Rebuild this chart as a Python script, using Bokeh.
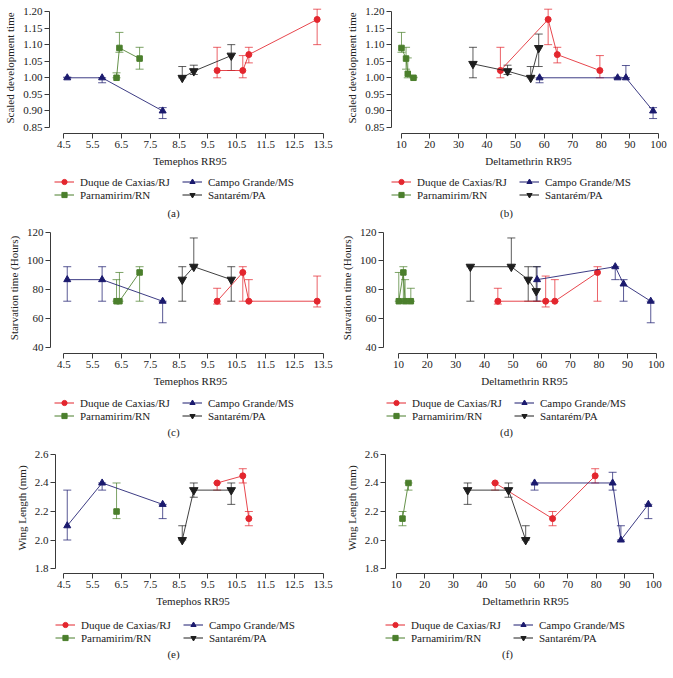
from bokeh.plotting import figure
from bokeh.layouts import column, row
from bokeh.models import (Range1d, FixedTicker, NumeralTickFormatter, Whisker, TeeHead,
                          ColumnDataSource, Legend, LegendItem, Label)
from bokeh.embed import file_html
from bokeh.resources import INLINE

FONT = "Liberation Serif"
NAN = float("nan")

SERIES = ["Duque de Caxias/RJ", "Parnamirim/RN", "Campo Grande/MS", "Santarém/PA"]
COLORS = ["#e3262e", "#4b7f2c", "#1b1a6e", "#1e1e1e"]
MARKERS = ["circle", "square", "triangle", "inverted_triangle"]
SIZES = [6, 5.5, 7, 8.5]

TEM_TICKS = [4.5, 5.5, 6.5, 7.5, 8.5, 9.5, 10.5, 11.5, 12.5, 13.5]
DEL_TICKS = [10, 20, 30, 40, 50, 60, 70, 80, 90, 100]
DEV_TICKS = [0.85, 0.90, 0.95, 1.00, 1.05, 1.10, 1.15, 1.20]
STARV_TICKS = [40, 60, 80, 100, 120]
WING_TICKS = [1.8, 2.0, 2.2, 2.4, 2.6]

# series order in every list: Duque de Caxias, Parnamirim, Campo Grande, Santarem
A_X = [[9.82, 10.71, 10.92, 13.29], [6.33, 6.43, 7.13], [4.62, 5.83, 7.93], [8.61, 9.01, 10.31]]
A_Y = [[1.022, 1.022, 1.070, 1.176], [1.000, 1.090, 1.058], [1.000, 1.000, 0.900], [1.000, 1.020, 1.067]]
A_LO = [[1.000, 1.000, 1.045, 1.100], [1.000, 1.077, 1.026], [1.000, 0.985, 0.877], [1.000, 1.010, 1.022]]
A_HI = [[1.092, 1.067, 1.092, 1.207], [1.015, 1.137, 1.092], [1.002, 1.000, 0.910], [1.034, 1.038, 1.100]]

B_X = [[44.7, 61.4, 64.6, 79.5], [10.1, 11.7, 12.3, 14.3], [58.4, 85.7, 88.6, 98.1], [35.1, 47.2, 55.3, 58.1]]
B_Y = [[1.022, 1.176, 1.070, 1.022], [1.090, 1.058, 1.012, 1.000], [1.000, 1.000, 1.000, 0.900], [1.042, 1.020, 1.000, 1.090]]
B_LO = [[1.000, 1.100, 1.045, 1.000], [1.077, 1.026, 1.000, 1.000], [0.985, 0.998, 1.000, 0.877], [1.000, 1.010, 1.000, 1.034]]
B_HI = [[1.092, 1.207, 1.092, 1.067], [1.137, 1.092, 1.060, 1.002], [1.000, 1.002, 1.037, 0.910], [1.092, 1.038, 1.034, 1.132]]

C_X = [[9.82, 10.71, 10.92, 13.29], [6.33, 6.43, 7.13], [4.62, 5.83, 7.93], [8.61, 9.01, 10.31]]
C_Y = [[72, 92, 72, 72], [72, 72, 92], [87, 87, 72], [87, 96, 87]]
C_LO = [[70, 72, 72, 68], [72, 72, 72], [72, 72, 57], [72, 96, 72]]
C_HI = [[81, 96, 87, 89.5], [87, 92, 96], [96, 96, 72], [96, 116, 96]]

D_X = [[44.7, 61.4, 64.6, 79.5], [10.1, 11.7, 12.3, 14.3], [58.4, 85.7, 88.6, 98.1], [35.1, 49.4, 55.3, 58.1]]
D_Y = [[72, 72, 72, 92], [72, 92, 72, 72], [87, 96, 84, 72], [96, 96, 87, 79]]
D_LO = [[70, 68, 72, 72], [72, 72, 72, 72], [72, 87, 72, 57], [72, 96, 72, 72]]
D_HI = [[81, 89.5, 87, 96], [92, 96, 87, 81], [96, 96, 87, 72], [96, 116, 96, 96]]

E_X = [[9.82, 10.71, 10.92], [6.33], [4.62, 5.83, 7.93], [8.61, 9.01, 10.31]]
E_Y = [[2.40, 2.45, 2.15], [2.20], [2.10, 2.40, 2.25], [2.00, 2.35, 2.35]]
E_LO = [[2.35, 2.40, 2.10], [2.15], [2.00, 2.35, 2.15], [2.00, 2.30, 2.25]]
E_HI = [[2.40, 2.50, 2.20], [2.40], [2.35, 2.40, 2.25], [2.10, 2.40, 2.40]]

F_X = [[44.6, 64.7, 79.6], [12.2, 14.3], [58.4, 85.7, 88.6, 98.2], [35.0, 49.3, 55.3]]
F_Y = [[2.40, 2.15, 2.45], [2.15, 2.40], [2.40, 2.40, 2.00, 2.25], [2.35, 2.35, 2.00]]
F_LO = [[2.35, 2.10, 2.40], [2.10, 2.35], [2.35, 2.35, 2.00, 2.15], [2.25, 2.30, 2.00]]
F_HI = [[2.40, 2.20, 2.50], [2.20, 2.40], [2.40, 2.475, 2.10, 2.25], [2.40, 2.40, 2.10]]


def build(xs, ys, los, his, xr, yr, xticks, yticks, xfmt, yfmt, xlabel, ylabel, caption,
          x0, w, hm, hl, bl, br, leg_dx, leg_dy, cap_x, cap_y):
    p = figure(width=w, height=hm, x_range=Range1d(*xr), y_range=Range1d(*yr),
               output_backend="svg", toolbar_location=None,
               min_border_left=bl, min_border_right=br, min_border_top=2, min_border_bottom=38)
    p.outline_line_color = None
    p.xgrid.visible = False
    p.ygrid.visible = False

    for k in range(4):
        src = ColumnDataSource(dict(x=xs[k], y=ys[k], lo=los[k], hi=his[k]))
        c = COLORS[k]
        wsk = Whisker(source=src, base="x", lower="lo", upper="hi", dimension="height",
                      line_color=c, line_width=1, line_alpha=0.72,
                      upper_head=TeeHead(size=8, line_color=c, line_width=1, line_alpha=0.72),
                      lower_head=TeeHead(size=8, line_color=c, line_width=1, line_alpha=0.72))
        p.add_layout(wsk)
        p.line("x", "y", source=src, line_color=c, line_width=1, line_alpha=0.85)
        p.scatter("x", "y", source=src, marker=MARKERS[k], size=SIZES[k],
                  fill_color=c, line_color=c)

    for ax in (p.xaxis[0], p.yaxis[0]):
        ax.axis_line_color = "#3a3a3a"
        ax.major_tick_line_color = "#3a3a3a"
        ax.minor_tick_line_color = None
        ax.major_tick_out = 5
        ax.major_tick_in = 0
        ax.major_label_text_font = FONT
        ax.major_label_text_font_size = "11px"
        ax.major_label_text_color = "#222222"
        ax.axis_label_text_font = FONT
        ax.axis_label_text_font_size = "11px"
        ax.axis_label_text_font_style = "normal"
        ax.axis_label_text_color = "#222222"
        ax.major_label_standoff = 2
        ax.axis_label_standoff = 4

    p.xaxis[0].ticker = FixedTicker(ticks=xticks)
    p.yaxis[0].ticker = FixedTicker(ticks=yticks)
    p.xaxis[0].formatter = NumeralTickFormatter(format=xfmt)
    p.yaxis[0].formatter = NumeralTickFormatter(format=yfmt)
    p.xaxis[0].bounds = (xticks[0], xticks[-1])
    p.yaxis[0].bounds = (yticks[0], yticks[-1])
    p.xaxis[0].axis_label = xlabel
    p.yaxis[0].axis_label = ylabel

    # legend + caption strip below the plot (its frame lines up with the plot frame)
    q = figure(width=w, height=hl, x_range=Range1d(x0 + bl, x0 + w - br), y_range=Range1d(0, hl),
               output_backend="svg", toolbar_location=None,
               x_axis_location=None, y_axis_location=None,
               min_border_left=bl, min_border_right=br, min_border_top=0, min_border_bottom=0)
    q.outline_line_color = None
    q.xgrid.visible = False
    q.ygrid.visible = False
    items = []
    for k in range(4):
        c = COLORS[k]
        lr = q.line(x=[NAN], y=[NAN], line_color=c, line_width=1)
        sr = q.scatter(x=[NAN], y=[NAN], marker=MARKERS[k], size=SIZES[k], fill_color=c, line_color=c)
        items.append(LegendItem(label=SERIES[k], renderers=[lr, sr]))
    leg = Legend(items=items, ncols=2, location=(leg_dx, leg_dy), margin=0, padding=0, spacing=0,
                 glyph_width=20, glyph_height=13, label_height=13, label_width=102,
                 label_standoff=6, label_text_font=FONT, label_text_font_size="11px",
                 label_text_color="#222222",
                 border_line_color=None, background_fill_alpha=0)
    q.add_layout(leg, "center")
    q.add_layout(Label(x=cap_x, y=cap_y, text=caption, text_align="center", text_baseline="middle",
                       text_font=FONT, text_font_size="11px", text_color="#222222"))
    return column(p, q, spacing=0)


pa = build(A_X, A_Y, A_LO, A_HI, (4.004, 13.753), (0.8319, 1.2272), TEM_TICKS, DEV_TICKS, "0.0", "0.00",
           "Temephos RR95", "Scaled development time", "(a)", 0, 333, 171, 49, 49, 3, 5, 19, 173, 8)
pb = build(B_X, B_Y, B_LO, B_HI, (6.607, 102.45), (0.8319, 1.2272), DEL_TICKS, DEV_TICKS, "0", "0.00",
           "Deltamethrin RR95", "Scaled development time", "(b)", 333, 340, 171, 49, 58, 8, 0, 19, 506, 8)
pc = build(C_X, C_Y, C_LO, C_HI, (4.039, 13.753), (35.62, 126.75), TEM_TICKS, STARV_TICKS, "0.0", "0",
           "Temephos RR95", "Starvation time (Hours)", "(c)", 0, 333, 171, 49, 50, 3, 4, 18, 173, 8.3)
pd_ = build(D_X, D_Y, D_LO, D_HI, (4.76, 103.25), (35.62, 126.75), DEL_TICKS, STARV_TICKS, "0", "0",
            "Deltamethrin RR95", "Starvation time (Hours)", "(d)", 333, 340, 171, 49, 50, 8, 3, 18, 506, 8.3)
pe = build(E_X, E_Y, E_LO, E_HI, (4.212, 13.753), (1.765, 2.684), TEM_TICKS, WING_TICKS, "0.0", "0.0",
           "Temephos RR95", "Wing Length (mm)", "(e)", 0, 333, 171, 59, 55, 3, 0, 26, 173, 17)
pf = build(F_X, F_Y, F_LO, F_HI, (6.26, 104.2), (1.765, 2.684), DEL_TICKS, WING_TICKS, "0", "0.0",
           "Deltamethrin RR95", "Wing Length (mm)", "(f)", 333, 340, 171, 59, 52, 8, 0, 26, 507, 17)

layout = column(row(pa, pb, spacing=0), row(pc, pd_, spacing=0), row(pe, pf, spacing=0), spacing=0)

with open("out.html", "w") as f:
    f.write(file_html(layout, INLINE))
